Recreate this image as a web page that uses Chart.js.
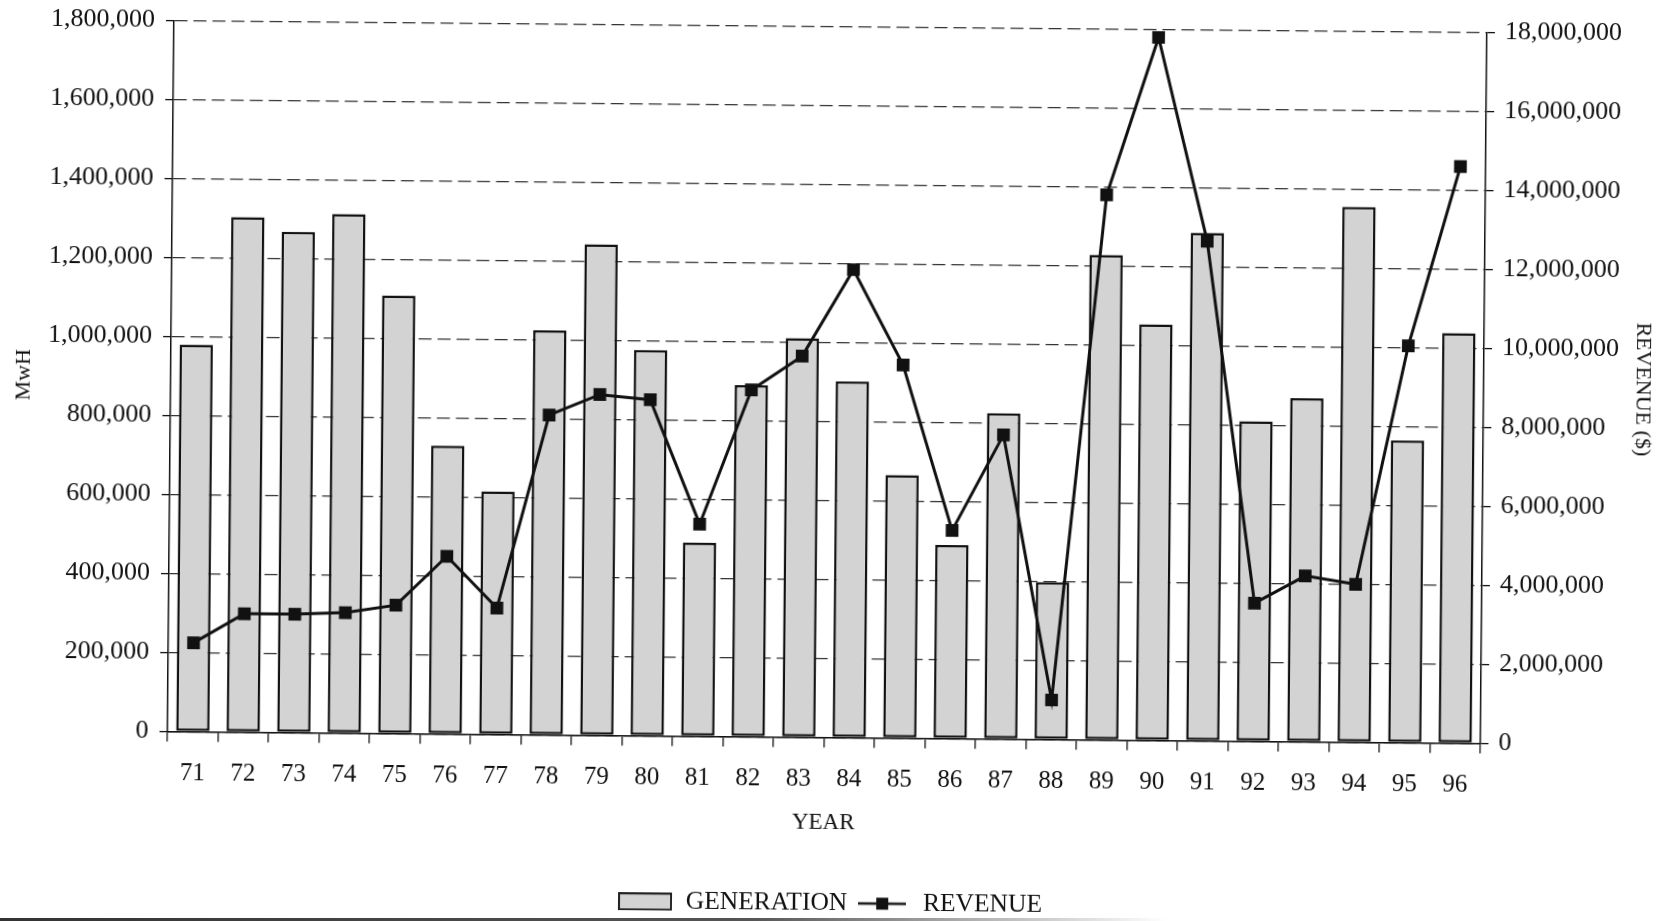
<!DOCTYPE html>
<html>
<head>
<meta charset="utf-8">
<title>Generation and Revenue</title>
<script src="https://cdn.jsdelivr.net/npm/chart.js@4.4.1/dist/chart.umd.min.js"></script>
<style>
  html, body { margin: 0; padding: 0; background: #fff; overflow: hidden; }
  #wrap { position: absolute; left: 0; top: 0; width: 1667px; height: 921px; transform: rotate(0.52deg); }
  #edge { position: absolute; left: 0; bottom: 0; width: 1667px; height: 3px;
          background: linear-gradient(to right, #333 0%, #555 45%, rgba(80,80,80,0) 70%); }
</style>
</head>
<body>
<div id="wrap"><canvas id="chart" width="1667" height="921"></canvas></div>
<div id="edge"></div>
<script>
// values
const years = ['71','72','73','74','75','76','77','78','79','80','81','82','83',
               '84','85','86','87','88','89','90','91','92','93','94','95','96'];
const generation = [980000, 1304000, 1268000, 1314000, 1109000, 730000, 615000, 1024000,
                    1243000, 977000, 490000, 890000, 1010000, 902000, 666000, 490000,
                    825000, 398000, 1228000, 1053000, 1286000, 810000, 870000, 1355000,
                    765000, 1038000];
const revenue = [2250000, 3000000, 3000000, 3050000, 3250000, 4500000, 3200000, 8100000,
                 8630000, 8510000, 5370000, 8780000, 9650000, 11850000, 9450000, 5270000,
                 7700000, 1000000, 13800000, 17800000, 12650000, 3500000, 4200000, 4000000,
                 10050000, 14600000];
const mwhMax = 1800000, mwhStep = 200000;
const revMax = 18000000, revStep = 2000000;

const serif = "'Liberation Serif', 'DejaVu Serif', serif";
const barGray = '#d3d3d3';

// little pictures for the legend
function boxSwatch() {
  const c = document.createElement('canvas');
  c.width = 54; c.height = 18;
  const g = c.getContext('2d');
  g.fillStyle = barGray;
  g.fillRect(1, 1, 52, 16);
  g.strokeStyle = '#222';
  g.lineWidth = 2;
  g.strokeRect(1, 1, 52, 16);
  return c;
}
function lineSwatch() {
  const c = document.createElement('canvas');
  c.width = 48; c.height = 16;
  const g = c.getContext('2d');
  g.strokeStyle = '#111';
  g.lineWidth = 2.5;
  g.beginPath(); g.moveTo(0, 8); g.lineTo(48, 8); g.stroke();
  g.fillStyle = '#111';
  g.fillRect(18, 2, 12, 12);
  return c;
}
const swatches = [boxSwatch(), lineSwatch()];

const fmt = v => Number(v).toLocaleString('en-US');

new Chart(document.getElementById('chart'), {
  data: {
    labels: years,
    datasets: [{
      type: 'bar',
      label: 'GENERATION',
      data: generation,
      yAxisID: 'y',
      backgroundColor: barGray,
      borderColor: '#111',
      borderWidth: 2.5,
      borderSkipped: false,
      barPercentage: 0.66,
      categoryPercentage: 1.0,
      order: 2
    }, {
      type: 'line',
      label: 'REVENUE',
      data: revenue,
      yAxisID: 'y1',
      borderColor: '#111',
      backgroundColor: '#111',
      borderWidth: 3,
      pointStyle: 'rect',
      pointRadius: 9,
      pointBorderWidth: 0,
      tension: 0,
      fill: false,
      order: 1
    }]
  },
  options: {
    responsive: false,
    animation: false,
    events: [],
    layout: { padding: { top: 25, bottom: -5, left: 0, right: 0 } },
    plugins: {
      title: { display: false },
      tooltip: { enabled: false },
      legend: {
        position: 'bottom',
        labels: {
          usePointStyle: true,
          pointStyleWidth: 56,
          padding: 7,
          color: '#111',
          font: { family: serif, size: 25.5 },
          generateLabels: chart => chart.data.datasets.map((ds, i) => ({
            text: ds.label,
            pointStyle: swatches[i],
            fillStyle: '#111',
            strokeStyle: '#111',
            lineWidth: 0,
            hidden: false,
            datasetIndex: i,
            fontColor: '#111'
          }))
        }
      }
    },
    scales: {
      x: {
        offset: true,
        afterFit: s => { s.height = 146; },
        grid: { drawOnChartArea: false, drawTicks: true, tickLength: 10, offset: true, color: '#111', lineWidth: 1.3 },
        border: { color: '#111', width: 1.5 },
        ticks: { color: '#111', padding: 17, maxRotation: 0, font: { family: serif, size: 25 } },
        title: { display: true, text: 'YEAR', color: '#111', padding: { top: 0, bottom: 47 },
                 font: { family: serif, size: 23 } }
      },
      y: {
        position: 'left',
        min: 0, max: mwhMax,
        afterFit: s => { s.width = 170; },
        grid: { color: '#333', lineWidth: 1.3, tickLength: 8, tickColor: '#111', tickBorderDash: [] },
        border: { color: '#111', width: 1.5, dash: [13, 6] },
        ticks: { stepSize: mwhStep, color: '#111', padding: 11, callback: fmt,
                 font: { family: serif, size: 26 } },
        title: { display: true, text: 'MwH', color: '#111', padding: { top: 10, bottom: 0 },
                 font: { family: serif, size: 22 } }
      },
      y1: {
        position: 'right',
        min: 0, max: revMax,
        afterFit: s => { s.width = 184; },
        grid: { drawOnChartArea: false, tickLength: 8, color: '#111', lineWidth: 1.3 },
        border: { color: '#111', width: 1.5 },
        ticks: { stepSize: revStep, color: '#111', padding: 10, callback: fmt,
                 font: { family: serif, size: 26 } },
        title: { display: true, text: 'REVENUE ($)', color: '#111', padding: { top: 12, bottom: 0 },
                 font: { family: serif, size: 22 } }
      }
    }
  }
});
</script>
</body>
</html>
